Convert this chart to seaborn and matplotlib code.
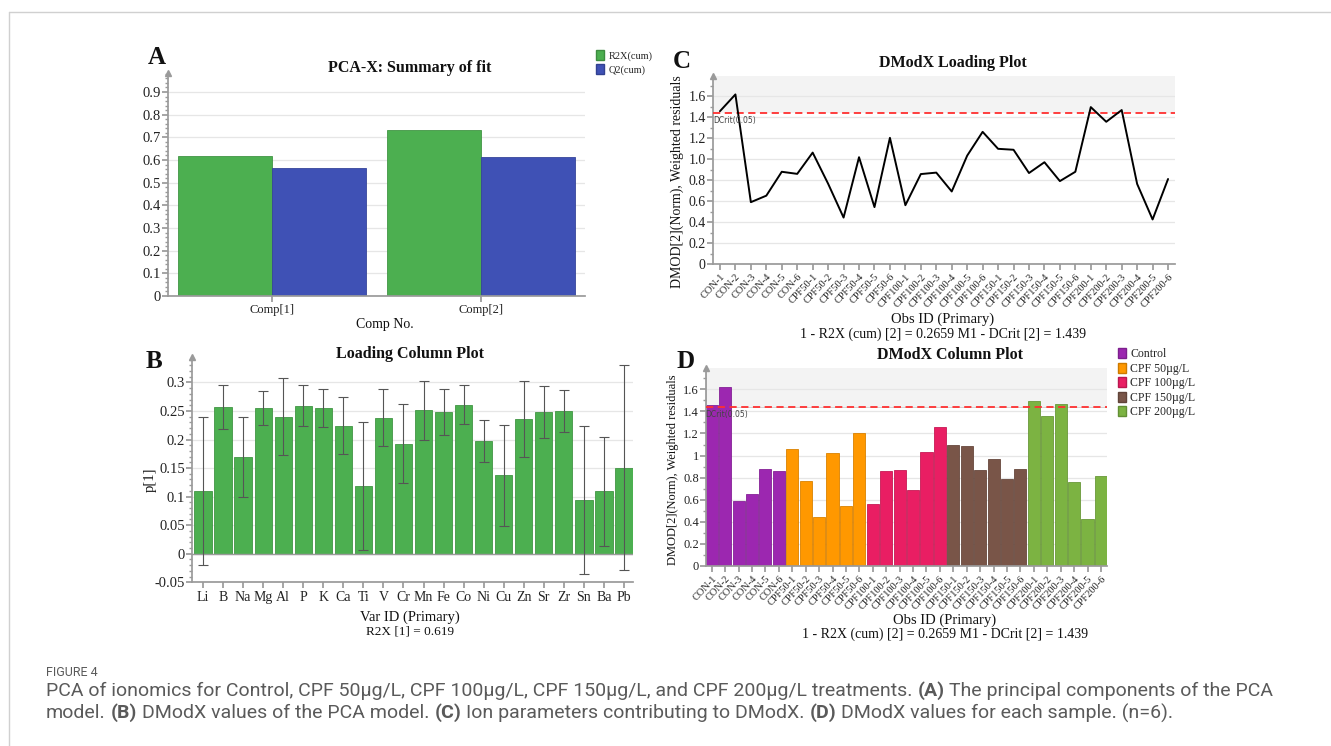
import numpy as np
import pandas as pd
import matplotlib
matplotlib.use("Agg")
import matplotlib.pyplot as plt
import matplotlib.colors as mcolors
import seaborn as sns
from matplotlib.ticker import MultipleLocator, AutoMinorLocator, FuncFormatter
from matplotlib.lines import Line2D
from matplotlib.patches import Patch

# ---- data ----
comps = ["Comp[1]", "Comp[2]"]
r2x_cum = [0.619, 0.734]
q2_cum = [0.566, 0.611]

elements = ["Li", "B", "Na", "Mg", "Al", "P", "K", "Ca", "Ti", "V", "Cr",
            "Mn", "Fe", "Co", "Ni", "Cu", "Zn", "Sr", "Zr", "Sn", "Ba", "Pb"]
loading_p1 = [0.110, 0.257, 0.169, 0.255, 0.240, 0.259, 0.255, 0.224, 0.118, 0.238, 0.193,
              0.251, 0.248, 0.261, 0.197, 0.137, 0.236, 0.248, 0.250, 0.094, 0.109, 0.151]
loading_err = [0.130, 0.039, 0.070, 0.030, 0.067, 0.036, 0.033, 0.050, 0.112, 0.050, 0.070,
               0.051, 0.040, 0.034, 0.037, 0.089, 0.066, 0.045, 0.036, 0.129, 0.096, 0.179]

groups = ["Control", "CPF 50µg/L", "CPF 100µg/L", "CPF 150µg/L", "CPF 200µg/L"]
group_prefix = ["CON", "CPF50", "CPF100", "CPF150", "CPF200"]
group_colors = ["#9c27b0", "#ff9800", "#e91e63", "#795548", "#7cb342"]
obs_ids = [f"{p}-{i}" for p in group_prefix for i in range(1, 7)]
obs_group = [g for g in groups for _ in range(6)]
dmodx = [1.458, 1.618, 0.590, 0.652, 0.880, 0.860,
         1.063, 0.766, 0.443, 1.019, 0.543, 1.204,
         0.561, 0.858, 0.872, 0.692, 1.034, 1.261,
         1.099, 1.090, 0.868, 0.971, 0.791, 0.880,
         1.497, 1.357, 1.469, 0.764, 0.425, 0.811]
dcrit = 1.439

sns.set_theme(style="white")
plt.rcParams["font.family"] = ["Liberation Serif", "DejaVu Serif"]

W, H = 1331, 746
fig = plt.figure(figsize=(W / 100, H / 100), dpi=100)


def fx(px):
    return px / W


def fy(py):
    return 1 - py / H


def box(left, right, top, bottom):
    return [fx(left), fy(bottom), (right - left) / W, (bottom - top) / H]


AX_GREY = "#9a9a9a"


def darker(c, f=0.8):
    r, g, b = mcolors.to_rgb(c)
    return (r * f, g * f, b * f)


def style_axis(ax, ysize=10.5):
    for s in ["top", "right"]:
        ax.spines[s].set_visible(False)
    ax.spines["left"].set_color(AX_GREY)
    ax.spines["bottom"].set_color(AX_GREY)
    ax.grid(axis="y", which="major", color="#e6e6e6", lw=0.9)
    ax.grid(axis="x", visible=False)
    ax.set_axisbelow(True)
    ax.tick_params(axis="y", which="both", left=True, direction="out", color=AX_GREY,
                   labelsize=ysize, labelcolor="#222222", pad=1)
    ax.tick_params(axis="y", which="major", length=4)
    ax.tick_params(axis="y", which="minor", length=2)
    ax.tick_params(axis="x", bottom=True, direction="out", color=AX_GREY, length=4,
                   labelcolor="#222222", pad=2)
    ax.plot(0, 1, marker="^", transform=ax.transAxes, color=AX_GREY, markersize=5,
            clip_on=False, zorder=5)
    ax.set_xlabel("")
    ax.set_ylabel("")


def ftext(x, y, s, **kw):
    kw.setdefault("ha", "center")
    kw.setdefault("va", "center")
    kw.setdefault("color", "#111111")
    return fig.text(fx(x), fy(y), s, **kw)


# ---------------- A: summary of fit ----------------
axA = fig.add_axes(box(168, 585, 72.7, 296))
dfA = pd.DataFrame({"comp": comps * 2, "value": r2x_cum + q2_cum,
                    "series": ["R2X(cum)"] * 2 + ["Q2(cum)"] * 2})
sns.barplot(data=dfA, x="comp", y="value", hue="series", palette=["#4caf50", "#3f51b5"],
            width=0.9, saturation=1, legend=False, ax=axA)
for p in axA.patches:
    p.set_edgecolor(darker(p.get_facecolor()[:3], 0.85))
    p.set_linewidth(0.6)
style_axis(axA)
axA.set_xlim(-0.5, 1.5)
axA.set_ylim(0, 0.985)
axA.yaxis.set_major_locator(MultipleLocator(0.1))
axA.yaxis.set_minor_locator(MultipleLocator(0.02))
axA.yaxis.set_major_formatter(FuncFormatter(lambda v, p: f"{v:g}"))
axA.tick_params(axis="x", labelsize=9)
ftext(157, 58, "A", fontsize=18, fontweight="bold")
ftext(410, 68, "PCA-X: Summary of fit", fontsize=11.5, fontweight="bold")
ftext(385, 325, "Comp No.", fontsize=10)
fig.legend(handles=[Patch(facecolor="#4caf50", edgecolor=darker("#4caf50")),
                    Patch(facecolor="#3f51b5", edgecolor=darker("#3f51b5"))],
           labels=["R2X(cum)", "Q2(cum)"], loc="upper left",
           bbox_to_anchor=(fx(596), fy(50)), frameon=False, fontsize=7.5,
           handlelength=0.8, handleheight=1.1, handletextpad=0.4, labelspacing=0.35,
           borderpad=0, borderaxespad=0)

# ---------------- B: loading column plot ----------------
axB = fig.add_axes(box(192, 633, 356.7, 582.3))
dfB = pd.DataFrame({"element": elements, "p1": loading_p1, "err": loading_err})
sns.barplot(data=dfB, x="element", y="p1", color="#4caf50", saturation=1, width=0.86, ax=axB)
for p in axB.patches:
    p.set_edgecolor(darker("#4caf50", 0.85))
    p.set_linewidth(0.6)
axB.errorbar(np.arange(len(elements)), dfB["p1"], yerr=dfB["err"], fmt="none",
             ecolor="#555555", elinewidth=0.8, capsize=3.6, capthick=0.8, zorder=4)
style_axis(axB)
axB.axhline(0, color=AX_GREY, lw=1, zorder=3)
axB.set_xlim(-0.55, 21.45)
axB.set_ylim(-0.05, 0.345)
axB.yaxis.set_major_locator(MultipleLocator(0.05))
axB.yaxis.set_minor_locator(MultipleLocator(0.01))
axB.yaxis.set_major_formatter(FuncFormatter(lambda v, p: f"{v:g}"))
axB.tick_params(axis="x", labelsize=10)
ftext(154, 361, "B", fontsize=18, fontweight="bold")
ftext(410, 354, "Loading Column Plot", fontsize=11.5, fontweight="bold")
ftext(150, 480, "p[1]", fontsize=10.5, rotation=90)
ftext(410, 617, "Var ID (Primary)", fontsize=10.5)
ftext(410, 632, "R2X [1] = 0.619", fontsize=9.5)

# ---------------- C: DModX loading (line) ----------------
dfC = pd.DataFrame({"obs": obs_ids, "dmodx": dmodx, "group": obs_group})
axC = fig.add_axes(box(712.7, 1175, 76.4, 264))
axC.axhspan(dcrit, 1.8, color="#f3f3f3", zorder=0, lw=0)
sns.lineplot(data=dfC, x="obs", y="dmodx", color="black", lw=1.4, sort=False, ax=axC, zorder=4)
axC.axhline(dcrit, color="#ff3030", ls=(0, (4, 2.5)), lw=1.3, zorder=3)
style_axis(axC, ysize=10)
axC.set_xlim(-0.47, 29.45)
axC.set_ylim(0, 1.79)
axC.yaxis.set_major_locator(MultipleLocator(0.2))
axC.yaxis.set_minor_locator(AutoMinorLocator(2))
axC.yaxis.set_major_formatter(FuncFormatter(lambda v, p: "0" if abs(v) < 1e-9 else f"{v:.1f}"))
axC.tick_params(axis="x", labelsize=7.5)
plt.setp(axC.get_xticklabels(), rotation=47, ha="right", rotation_mode="anchor")
axC.text(-0.45, dcrit - 0.03, "DCrit(0.05)", fontsize=5.5, family="DejaVu Sans",
         color="#444444", ha="left", va="top", zorder=5)
ftext(682, 62, "C", fontsize=18, fontweight="bold")
ftext(953, 63, "DModX Loading Plot", fontsize=11.5, fontweight="bold")
ftext(677, 182, "DMOD[2](Norm), Weighted residuals", fontsize=10, rotation=90)
ftext(943, 319, "Obs ID (Primary)", fontsize=10.5)
ftext(943, 334, "1 - R2X (cum) [2] = 0.2659 M1 - DCrit [2] = 1.439", fontsize=10)

# ---------------- D: DModX column plot ----------------
axD = fig.add_axes(box(705.7, 1107, 368.3, 566))
axD.axhspan(dcrit, 1.8, color="#f3f3f3", zorder=0, lw=0)
sns.barplot(data=dfC, x="obs", y="dmodx", hue="group", palette=group_colors, dodge=False,
            width=0.9, saturation=1, legend=False, ax=axD, zorder=2)
for p in axD.patches:
    p.set_edgecolor(darker(p.get_facecolor()[:3], 0.85))
    p.set_linewidth(0.6)
axD.axhline(dcrit, color="#ff3030", ls=(0, (4, 2.5)), lw=1.3, zorder=3)
style_axis(axD, ysize=9)
axD.set_xlim(-0.45, 29.45)
axD.set_ylim(0, 1.79)
axD.yaxis.set_major_locator(MultipleLocator(0.2))
axD.yaxis.set_minor_locator(AutoMinorLocator(2))
axD.yaxis.set_major_formatter(FuncFormatter(lambda v, p: f"{v:g}"))
axD.tick_params(axis="x", labelsize=7.5)
plt.setp(axD.get_xticklabels(), rotation=47, ha="right", rotation_mode="anchor")
axD.text(-0.45, dcrit - 0.03, "DCrit(0.05)", fontsize=5.5, family="DejaVu Sans",
         color="#444444", ha="left", va="top", zorder=5)
ftext(686, 361, "D", fontsize=18, fontweight="bold")
ftext(950, 355, "DModX Column Plot", fontsize=11.5, fontweight="bold")
ftext(673, 470, "DMOD[2](Norm), Weighted residuals", fontsize=9, rotation=90)
ftext(945, 620, "Obs ID (Primary)", fontsize=10.5)
ftext(945, 634, "1 - R2X (cum) [2] = 0.2659 M1 - DCrit [2] = 1.439", fontsize=10)
fig.legend(handles=[Patch(facecolor=c, edgecolor=darker(c)) for c in group_colors],
           labels=groups, loc="upper left", bbox_to_anchor=(fx(1118), fy(348)),
           frameon=False, fontsize=8.5, handlelength=0.65, handleheight=0.95,
           handletextpad=0.4, labelspacing=0.2, borderpad=0, borderaxespad=0)

# ---------------- frame + caption ----------------
fig.add_artist(Line2D([fx(9), 1], [fy(12), fy(12)], color="#d0d0d0", lw=1))
fig.add_artist(Line2D([fx(9), fx(9)], [0, fy(12)], color="#d0d0d0", lw=1))

cap_font = ["Roboto", "DejaVu Sans"]
cap_color = "#5a5a5a"
renderer = fig.canvas.get_renderer()

line1 = [("PCA of ionomics for Control, CPF 50µg/L, CPF 100µg/L, CPF 150µg/L, and CPF 200µg/L treatments.", False),
         ("(A)", True), ("The principal components of the PCA", False)]
line2 = [("model.", False), ("(B)", True), ("DModX values of the PCA model.", False), ("(C)", True),
         ("Ion parameters contributing to DModX.", False), ("(D)", True),
         ("DModX values for each sample. (n=6).", False)]


def text_width(s, size, bold):
    t = fig.text(0, 0, s, fontsize=size, family=cap_font, fontweight="bold" if bold else "normal")
    w = t.get_window_extent(renderer).width
    t.remove()
    return w


def line_width(parts, size):
    sp = text_width("a a", size, False) - text_width("aa", size, False)
    return sum(text_width(s, size, b) for s, b in parts) + sp * (len(parts) - 1)


cap_size = 11 * (1262 - 46) / line_width(line1, 11)


def rich_line(parts, x_px, y_px, size):
    sp = text_width("a a", size, False) - text_width("aa", size, False)
    x = x_px
    for s, b in parts:
        t = fig.text(fx(x), fy(y_px), s, fontsize=size, family=cap_font, color=cap_color,
                     fontweight="bold" if b else "normal", ha="left", va="center")
        x += t.get_window_extent(renderer).width + sp


fig.text(fx(46), fy(672), "FIGURE 4", fontsize=9, family=cap_font, color=cap_color,
         ha="left", va="center")
rich_line(line1, 46, 691, cap_size)
rich_line(line2, 46, 713, cap_size)

fig.savefig("out.png", dpi=100, facecolor="white")
